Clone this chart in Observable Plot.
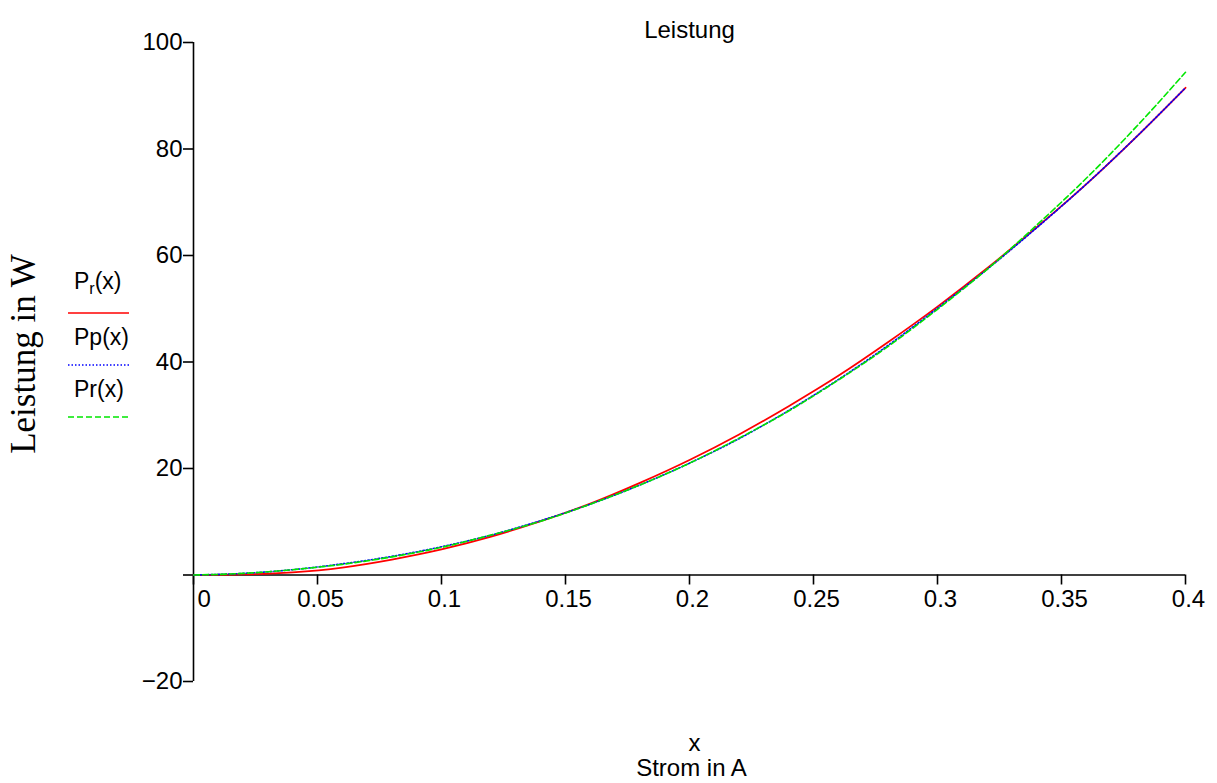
<!DOCTYPE html>
<html><head><meta charset="utf-8">
<script src="https://cdn.jsdelivr.net/npm/d3@7"></script>
<script src="https://cdn.jsdelivr.net/npm/@observablehq/plot@0.6"></script>
<style>body{margin:0;background:#fff} #chart svg{display:block}</style>
</head><body><div id="chart"></div>
<script>
// Strom x in A
const xValues = [0, 0.02, 0.04, 0.06, 0.08, 0.10, 0.12, 0.14, 0.16, 0.18, 0.20, 0.22, 0.24, 0.26, 0.28, 0.30, 0.32, 0.34, 0.36, 0.38, 0.40];
// P_r(x) red solid
const seriesPrSub = [0, 0.1, 0.5, 1.4, 2.9, 4.8, 7.2, 10.1, 13.4, 17.3, 21.6, 26.4, 31.7, 37.4, 43.7, 50.4, 57.6, 65.3, 73.4, 82.2, 91.5];
// Pp(x) blue dotted
const seriesPp = [0, 0.3, 1.0, 2.1, 3.5, 5.3, 7.5, 10.2, 13.3, 16.9, 21.0, 25.6, 30.9, 36.7, 43.1, 50.1, 57.4, 65.2, 73.4, 82.2, 91.5];
// Pr(x) green dashed
const seriesPr = [0, 0.3, 1.0, 2.0, 3.4, 5.2, 7.5, 10.1, 13.3, 16.9, 21.0, 25.7, 30.8, 36.6, 42.9, 49.9, 57.4, 65.7, 74.5, 84.1, 94.4];

const xTicks = [0, 0.05, 0.1, 0.15, 0.2, 0.25, 0.3, 0.35, 0.4];
const xTickLabels = ["0", "0.05", "0.1", "0.15", "0.2", "0.25", "0.3", "0.35", "0.4"];
const yTicks = [-20, 0, 20, 40, 60, 80, 100];
const yTickLabels = ["\u221220", "", "20", "40", "60", "80", "100"];

const titleText = "Leistung";
const yLabel = "Leistung in W";
const xLabel1 = "x";
const xLabel2 = "Strom in A";

const seriesKeys = ["Pr_sub", "Pp", "Pr"];
const seriesColors = ["#ff0000", "#0000ff", "#00e600"];
const seriesDash = [null, "1.5 2", "6 3"];

const seriesData = [seriesPrSub, seriesPp, seriesPr];
const rows = [];
seriesKeys.forEach((k, si) => xValues.forEach((x, i) => rows.push({series: k, x, y: seriesData[si][i]})));

const font = "'Liberation Sans', Arial, sans-serif";

const lineMarks = seriesKeys.map((k, si) => Plot.line(rows.filter(r => r.series === k), {
  x: "x", y: "y", stroke: seriesColors[si], strokeWidth: si === 0 ? 1.8 : 1.6,
  strokeDasharray: seriesDash[si] || undefined, curve: "monotone-x"
}));

const chart = Plot.plot({
  width: 1217, height: 783,
  marginLeft: 193, marginRight: 32, marginTop: 42, marginBottom: 102,
  style: {fontFamily: font, fontSize: "24px", background: "#fff", color: "#000", overflow: "visible"},
  x: {domain: [0, 0.4], axis: null},
  y: {domain: [-20, 100], axis: null},
  marks: [
    Plot.ruleX([0], {stroke: "#000", strokeWidth: 1.6}),
    Plot.ruleY([0], {stroke: "#000", strokeWidth: 1.6}),
    Plot.axisY({ticks: yTicks, tickSize: 10, tickPadding: 1, strokeWidth: 1.6,
      tickFormat: d => yTickLabels[yTicks.indexOf(d)], fontSize: 24, label: null}),
    Plot.ruleX(xTicks, {x: d => d, y1: 0, y2: 0, insetBottom: -10, stroke: "#000", strokeWidth: 1.6}),
    Plot.text(xTicks.slice(1), {x: d => d, y: 0, text: d => xTickLabels[xTicks.indexOf(d)], dy: 24, dx: 3, fontSize: 24}),
    Plot.text(xTicks.slice(0, 1), {x: d => d, y: 0, text: d => xTickLabels[xTicks.indexOf(d)], textAnchor: "start", dx: 4, dy: 24, fontSize: 24}),
    ...lineMarks,
    Plot.text([titleText], {text: d => d, frameAnchor: "top", dy: -22, fontSize: 24}),
    Plot.text([xLabel1], {text: d => d, frameAnchor: "bottom", dy: 69, dx: 5, fontSize: 24}),
    Plot.text([xLabel2], {text: d => d, frameAnchor: "bottom", dy: 94, dx: 2, fontSize: 24}),
    Plot.text([yLabel], {text: d => d, frameAnchor: "left", textAnchor: "middle", rotate: -90, dx: -170, dy: -8, fontSize: 35, fontFamily: "'Liberation Serif', 'Times New Roman', serif"})
  ]
});

// Legend in the left margin
const svg = d3.select(chart);
const leg = svg.append("g").attr("font-family", font).attr("font-size", 23).attr("text-anchor", "start");
const legendNames = [["P", "r", "(x)"], ["Pp(x)"], ["Pr(x)"]];
const legendTextY = [289, 345, 397];
const legendLineY = [313, 365, 417];
legendNames.forEach((parts, i) => {
  const t = leg.append("text").attr("x", 74).attr("y", legendTextY[i]).attr("fill", "#000");
  if (parts.length === 3) {
    t.append("tspan").text(parts[0]);
    t.append("tspan").attr("font-size", 16).attr("dy", 5).text(parts[1]);
    t.append("tspan").attr("dy", -5).text(parts[2]);
  } else {
    t.text(parts[0]);
  }
  leg.append("line").attr("x1", 68).attr("x2", 129).attr("y1", legendLineY[i]).attr("y2", legendLineY[i])
    .attr("stroke", seriesColors[i]).attr("stroke-width", 1.6)
    .attr("stroke-dasharray", seriesDash[i]);
});

document.getElementById("chart").append(chart);
</script>
</body></html>
